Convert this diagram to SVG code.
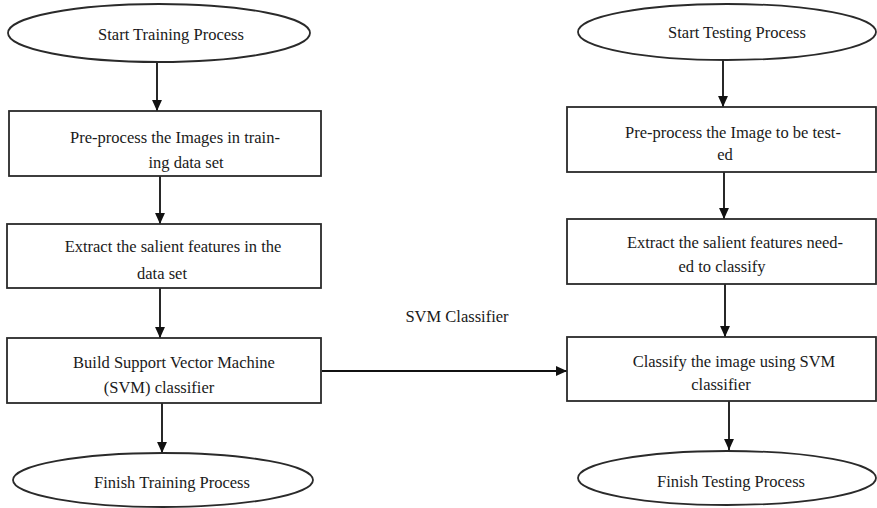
<svg xmlns="http://www.w3.org/2000/svg" width="877" height="508" viewBox="0 0 877 508">
<defs>
<marker id="ah" viewBox="0 0 10 10" refX="10" refY="5" markerWidth="11" markerHeight="11" orient="auto" markerUnits="userSpaceOnUse">
<path d="M0,0.5 L10,5 L0,9.5 z" fill="#111"/>
</marker>
<style>
.shape{fill:#fff;stroke:#2a2a2a;stroke-width:1.8}
.t{font-family:"Liberation Serif","Times New Roman",serif;font-size:16.5px;fill:#1a1a1a;text-anchor:middle}
.c{stroke:#111;stroke-width:1.8;fill:none;marker-end:url(#ah)}
</style>
</defs>
<rect width="877" height="508" fill="#fff"/>
<g id="connectors">
<line class="c" x1="157" y1="62" x2="157" y2="111"/>
<line class="c" x1="160" y1="176" x2="160" y2="224"/>
<line class="c" x1="160" y1="288" x2="160" y2="338"/>
<line class="c" x1="162" y1="403" x2="162" y2="453"/>
<line class="c" x1="322" y1="371" x2="567" y2="371"/>
<line class="c" x1="723" y1="60" x2="723" y2="107"/>
<line class="c" x1="724" y1="172" x2="724" y2="219"/>
<line class="c" x1="725" y1="284" x2="725" y2="337"/>
<line class="c" x1="729" y1="401" x2="729" y2="450"/>
<text class="t" x="457" y="322">SVM Classifier</text>
</g>
<g id="start-training">
<ellipse class="shape" cx="159" cy="33" rx="151" ry="29"/>
<text class="t" x="171" y="40">Start Training Process</text>
</g>
<g id="preprocess-training">
<rect class="shape" x="9" y="111" width="312" height="65"/>
<text class="t" x="175" y="143">Pre-process the Images in train-</text>
<text class="t" x="186" y="168">ing data set</text>
</g>
<g id="extract-training">
<rect class="shape" x="7" y="224" width="314" height="64"/>
<text class="t" x="173" y="252">Extract the salient features in the</text>
<text class="t" x="162" y="279">data set</text>
</g>
<g id="build-svm">
<rect class="shape" x="7" y="338" width="314" height="65"/>
<text class="t" x="174" y="368">Build Support Vector Machine</text>
<text class="t" x="159" y="393">(SVM) classifier</text>
</g>
<g id="finish-training">
<ellipse class="shape" cx="163" cy="480" rx="150" ry="27"/>
<text class="t" x="172" y="488">Finish Training Process</text>
</g>
<g id="start-testing">
<ellipse class="shape" cx="727" cy="32" rx="149" ry="28"/>
<text class="t" x="737" y="38">Start Testing Process</text>
</g>
<g id="preprocess-testing">
<rect class="shape" x="567" y="107" width="309" height="65"/>
<text class="t" x="733" y="138">Pre-process the Image to be test-</text>
<text class="t" x="725" y="160">ed</text>
</g>
<g id="extract-testing">
<rect class="shape" x="567" y="219" width="309" height="65"/>
<text class="t" x="735" y="248">Extract the salient features need-</text>
<text class="t" x="722" y="272">ed to classify</text>
</g>
<g id="classify">
<rect class="shape" x="567" y="337" width="309" height="64"/>
<text class="t" x="734" y="367">Classify the image using SVM</text>
<text class="t" x="721" y="390">classifier</text>
</g>
<g id="finish-testing">
<ellipse class="shape" cx="727" cy="478" rx="149" ry="27"/>
<text class="t" x="731" y="487">Finish Testing Process</text>
</g>
</svg>
